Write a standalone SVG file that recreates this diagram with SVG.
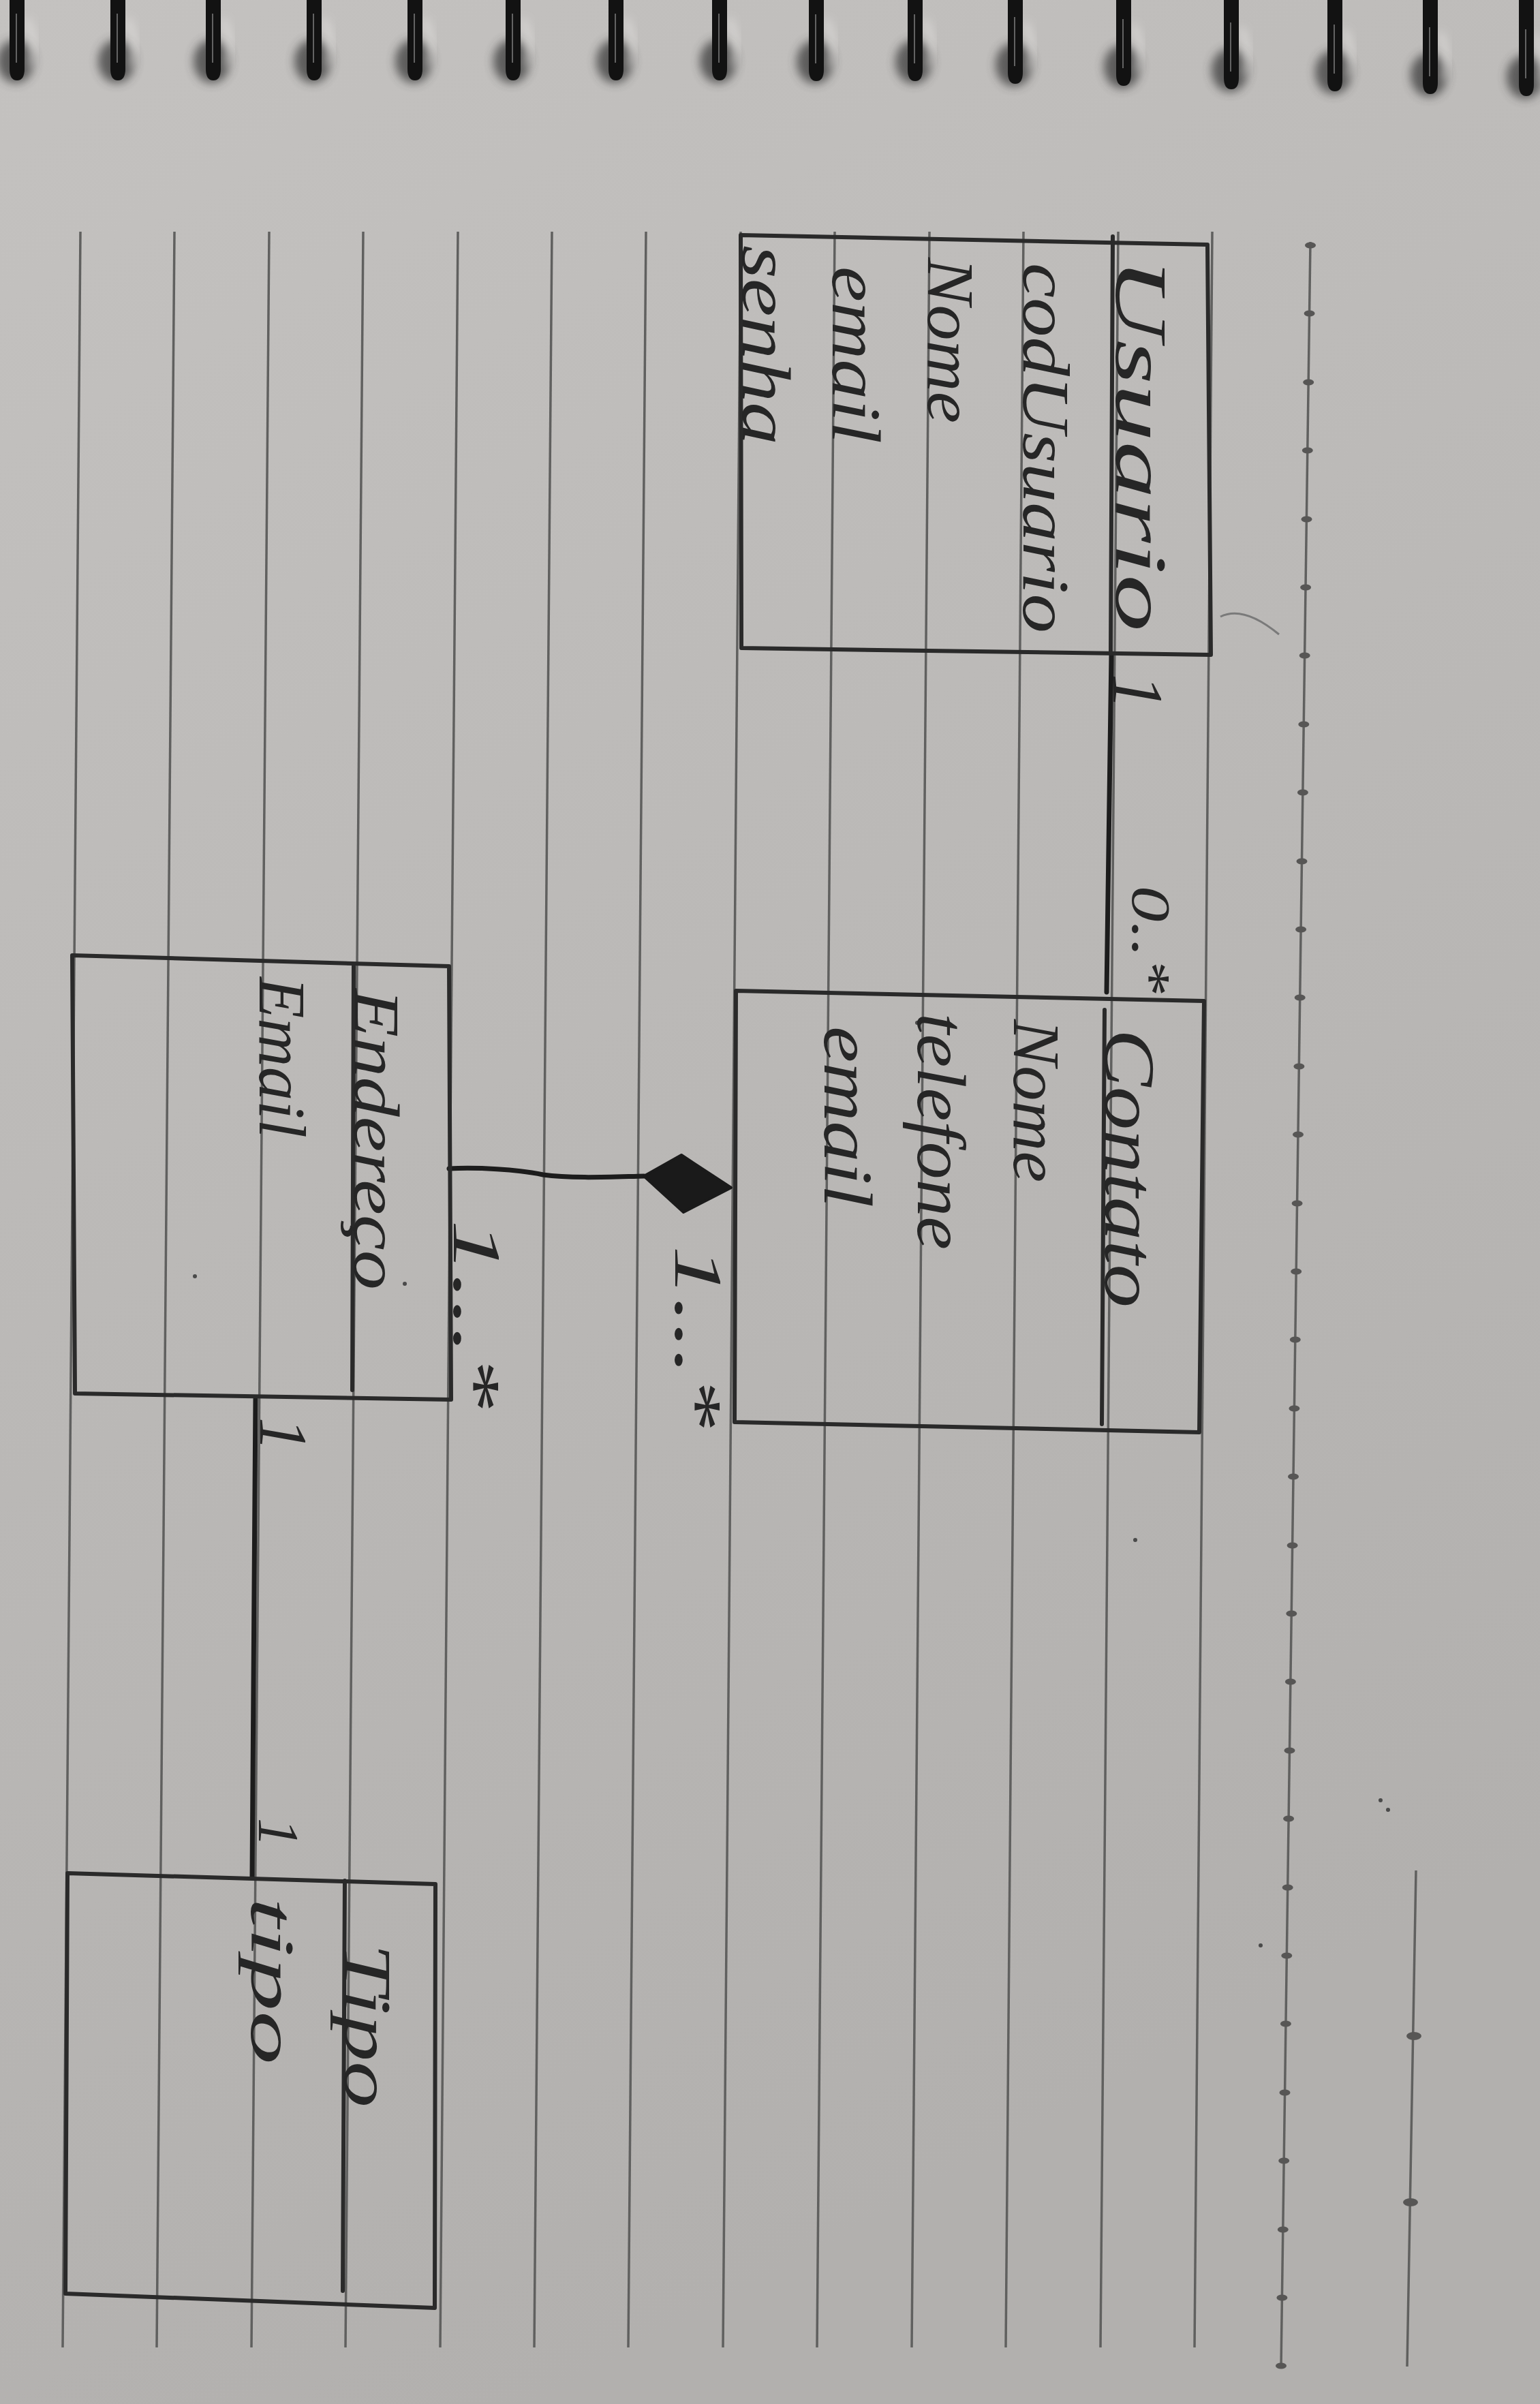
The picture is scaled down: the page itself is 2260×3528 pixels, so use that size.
<svg xmlns="http://www.w3.org/2000/svg" width="2260" height="3528" viewBox="0 0 2260 3528">
<defs>
<linearGradient id="paper" x1="0" y1="0" x2="0.35" y2="1">
<stop offset="0" stop-color="#c4c2c0"/>
<stop offset="0.5" stop-color="#bbb9b7"/>
<stop offset="1" stop-color="#b2b0ae"/>
</linearGradient>
<filter id="blur" x="-80%" y="-80%" width="260%" height="260%"><feGaussianBlur stdDeviation="7"/></filter>
<g id="coil">
<ellipse cx="-2" cy="90" rx="27" ry="32" fill="#3a3a3a" opacity="0.75" filter="url(#blur)"/>
<path d="M 14 28 Q 30 58 20 98" fill="none" stroke="#ebe9e7" stroke-width="7" opacity="0.7" filter="url(#blur)"/>
<path d="M -11 -40 L -11 101 Q -11 118 0 118 Q 11 118 11 101 L 11 -40 Z" fill="#121212"/>
<path d="M -1 20 L -1 92" stroke="#9a9a9a" stroke-width="2" opacity="0.6"/>
</g>
<style>
.rule{stroke:#60605f;stroke-width:3.5;fill:none}
.box{stroke:#2a2a2a;stroke-width:6;fill:none;stroke-linecap:round;stroke-linejoin:round}
.hw{font-family:"Liberation Serif","DejaVu Serif",serif;font-style:italic;fill:#262626}
.conn{stroke:#1c1c1c;stroke-width:7;fill:none;stroke-linecap:round}
.dot{fill:#575655}
.speck{fill:#4a4a4a}
</style>
</defs>

<g id="paper-bg">
<rect x="0" y="0" width="2260" height="3528" fill="url(#paper)"/>
</g>

<g id="spiral">
<use href="#coil" transform="translate(25,0)"/>
<use href="#coil" transform="translate(173,0)"/>
<use href="#coil" transform="translate(313,0)"/>
<use href="#coil" transform="translate(461,0)"/>
<use href="#coil" transform="translate(609,0)"/>
<use href="#coil" transform="translate(753,0)"/>
<use href="#coil" transform="translate(904,0)"/>
<use href="#coil" transform="translate(1056,0)"/>
<use href="#coil" transform="translate(1198,1)"/>
<use href="#coil" transform="translate(1343,1)"/>
<use href="#coil" transform="translate(1490,5)"/>
<use href="#coil" transform="translate(1649,8)"/>
<use href="#coil" transform="translate(1807,13)"/>
<use href="#coil" transform="translate(1959,16)"/>
<use href="#coil" transform="translate(2099,20)"/>
<use href="#coil" transform="translate(2240,23)"/>
</g>

<g id="ruling">
<path class="rule" d="M 118 340 L 92 3445"/>
<path class="rule" d="M 256 340 L 230 3445"/>
<path class="rule" d="M 395 340 L 369 3445"/>
<path class="rule" d="M 533 340 L 507 3445"/>
<path class="rule" d="M 672 340 L 646 3445"/>
<path class="rule" d="M 810 340 L 784 3445"/>
<path class="rule" d="M 948 340 L 922 3445"/>
<path class="rule" d="M 1087 340 L 1061 3445"/>
<path class="rule" d="M 1225 340 L 1199 3445"/>
<path class="rule" d="M 1364 340 L 1338 3445"/>
<path class="rule" d="M 1502 340 L 1476 3445"/>
<path class="rule" d="M 1641 340 L 1615 3445"/>
<path class="rule" d="M 1779 340 L 1753 3445"/>
<path class="rule" d="M 1923 355 L 1880 3474"/>
<g class="dot">
<ellipse cx="1923.0" cy="360" rx="8" ry="4.5"/>
<ellipse cx="1921.6" cy="460" rx="8" ry="4.5"/>
<ellipse cx="1920.2" cy="561" rx="8" ry="4.5"/>
<ellipse cx="1918.8" cy="661" rx="8" ry="4.5"/>
<ellipse cx="1917.5" cy="762" rx="8" ry="4.5"/>
<ellipse cx="1916.1" cy="862" rx="8" ry="4.5"/>
<ellipse cx="1914.7" cy="962" rx="8" ry="4.5"/>
<ellipse cx="1913.3" cy="1063" rx="8" ry="4.5"/>
<ellipse cx="1911.9" cy="1163" rx="8" ry="4.5"/>
<ellipse cx="1910.5" cy="1264" rx="8" ry="4.5"/>
<ellipse cx="1909.1" cy="1364" rx="8" ry="4.5"/>
<ellipse cx="1907.7" cy="1464" rx="8" ry="4.5"/>
<ellipse cx="1906.4" cy="1565" rx="8" ry="4.5"/>
<ellipse cx="1905.0" cy="1665" rx="8" ry="4.5"/>
<ellipse cx="1903.6" cy="1766" rx="8" ry="4.5"/>
<ellipse cx="1902.2" cy="1866" rx="8" ry="4.5"/>
<ellipse cx="1900.8" cy="1966" rx="8" ry="4.5"/>
<ellipse cx="1899.4" cy="2067" rx="8" ry="4.5"/>
<ellipse cx="1898.0" cy="2167" rx="8" ry="4.5"/>
<ellipse cx="1896.6" cy="2268" rx="8" ry="4.5"/>
<ellipse cx="1895.3" cy="2368" rx="8" ry="4.5"/>
<ellipse cx="1893.9" cy="2468" rx="8" ry="4.5"/>
<ellipse cx="1892.5" cy="2569" rx="8" ry="4.5"/>
<ellipse cx="1891.1" cy="2669" rx="8" ry="4.5"/>
<ellipse cx="1889.7" cy="2770" rx="8" ry="4.5"/>
<ellipse cx="1888.3" cy="2870" rx="8" ry="4.5"/>
<ellipse cx="1886.9" cy="2970" rx="8" ry="4.5"/>
<ellipse cx="1885.5" cy="3071" rx="8" ry="4.5"/>
<ellipse cx="1884.2" cy="3171" rx="8" ry="4.5"/>
<ellipse cx="1882.8" cy="3272" rx="8" ry="4.5"/>
<ellipse cx="1881.4" cy="3372" rx="8" ry="4.5"/>
<ellipse cx="1880.0" cy="3472" rx="8" ry="4.5"/>
</g>
<path class="rule" d="M 2078 2745 L 2065 3473"/>
<ellipse class="dot" cx="2075" cy="2988" rx="11" ry="6"/>
<ellipse class="dot" cx="2070" cy="3232" rx="11" ry="6"/>
<path d="M 1791 905 Q 1825 888 1877 931" fill="none" stroke="#7a7a7a" stroke-width="3"/>
<circle class="speck" cx="1346" cy="1501" r="3"/>
<circle class="speck" cx="1666" cy="2260" r="3"/>
<circle class="speck" cx="2037" cy="2656" r="3"/>
<circle class="speck" cx="1850" cy="2855" r="3"/>
<circle class="speck" cx="2026" cy="2642" r="3"/>
<circle class="speck" cx="286" cy="1873" r="3"/>
<circle class="speck" cx="594" cy="1884" r="3"/>
</g>

<g id="connectors">
<path class="conn" d="M 1631 961 L 1624 1456"/>
<path class="conn" stroke-width="5" d="M 659 1715 C 700 1713, 760 1716, 797 1724 C 840 1730, 900 1727, 945 1726"/>
<path d="M 945 1726 L 1000 1695 L 1073 1743 L 1003 1779 Z" fill="#1a1a1a" stroke="#1a1a1a" stroke-width="4" stroke-linejoin="round"/>
<path class="conn" d="M 375 2053 L 370 2754"/>
<text class="hw" font-size="105" transform="translate(1634,989) rotate(90)">1</text>
<text class="hw" font-size="80" textLength="158" lengthAdjust="spacingAndGlyphs" transform="translate(1662,1300) rotate(90)">0..*</text>
<text class="hw" font-size="100" textLength="267" lengthAdjust="spacingAndGlyphs" transform="translate(991,1828) rotate(90)">1...*</text>
<text class="hw" font-size="100" textLength="277" lengthAdjust="spacingAndGlyphs" transform="translate(666,1790) rotate(90)">1...*</text>
<text class="hw" font-size="100" transform="translate(382,2080) rotate(90)">1</text>
<text class="hw" font-size="85" transform="translate(380,2668) rotate(90)">1</text>
</g>

<g id="usuario">
<path class="box" d="M 1087 345 L 1772 359 L 1777 961 L 1088 951 Z"/>
<path class="box" d="M 1633 347 L 1630 958"/>
<text class="hw" font-size="108" textLength="549" lengthAdjust="spacingAndGlyphs" transform="translate(1638,378) rotate(90)">Usuario</text>
<text class="hw" font-size="98" textLength="543" lengthAdjust="spacingAndGlyphs" transform="translate(1502,386) rotate(90)">codUsuario</text>
<text class="hw" font-size="98" textLength="243" lengthAdjust="spacingAndGlyphs" transform="translate(1362,378) rotate(90)">Nome</text>
<text class="hw" font-size="102" textLength="260" lengthAdjust="spacingAndGlyphs" transform="translate(1222,391) rotate(90)">email</text>
<text class="hw" font-size="102" textLength="293" lengthAdjust="spacingAndGlyphs" transform="translate(1090,360) rotate(90)">senha</text>
</g>

<g id="contato">
<path class="box" d="M 1080 1454 L 1767 1469 L 1760 2102 L 1078 2087 Z"/>
<path class="box" d="M 1621 1482 L 1617 2090"/>
<text class="hw" font-size="105" textLength="409" lengthAdjust="spacingAndGlyphs" transform="translate(1622,1510) rotate(90)">Contato</text>
<text class="hw" font-size="98" textLength="239" lengthAdjust="spacingAndGlyphs" transform="translate(1488,1496) rotate(90)">Nome</text>
<text class="hw" font-size="102" textLength="347" lengthAdjust="spacingAndGlyphs" transform="translate(1347,1487) rotate(90)">telefone</text>
<text class="hw" font-size="102" textLength="266" lengthAdjust="spacingAndGlyphs" transform="translate(1210,1506) rotate(90)">email</text>
</g>

<g id="endereco">
<path class="box" d="M 106 1402 L 659 1418 L 662 2054 L 110 2045 Z"/>
<path class="box" d="M 519 1418 L 517 2040"/>
<text class="hw" font-size="95" textLength="442" lengthAdjust="spacingAndGlyphs" transform="translate(520,1451) rotate(90)">Endereço</text>
<text class="hw" font-size="98" textLength="236" lengthAdjust="spacingAndGlyphs" transform="translate(381,1434) rotate(90)">Email</text>
</g>

<g id="tipo">
<path class="box" d="M 99 2749 L 639 2765 L 638 3387 L 96 3366 Z"/>
<path class="box" d="M 506 2760 L 503 3362"/>
<text class="hw" font-size="100" textLength="241" lengthAdjust="spacingAndGlyphs" transform="translate(506,2852) rotate(90)">Tipo</text>
<text class="hw" font-size="90" textLength="245" lengthAdjust="spacingAndGlyphs" transform="translate(369,2785) rotate(90)">tipo</text>
</g>
</svg>
